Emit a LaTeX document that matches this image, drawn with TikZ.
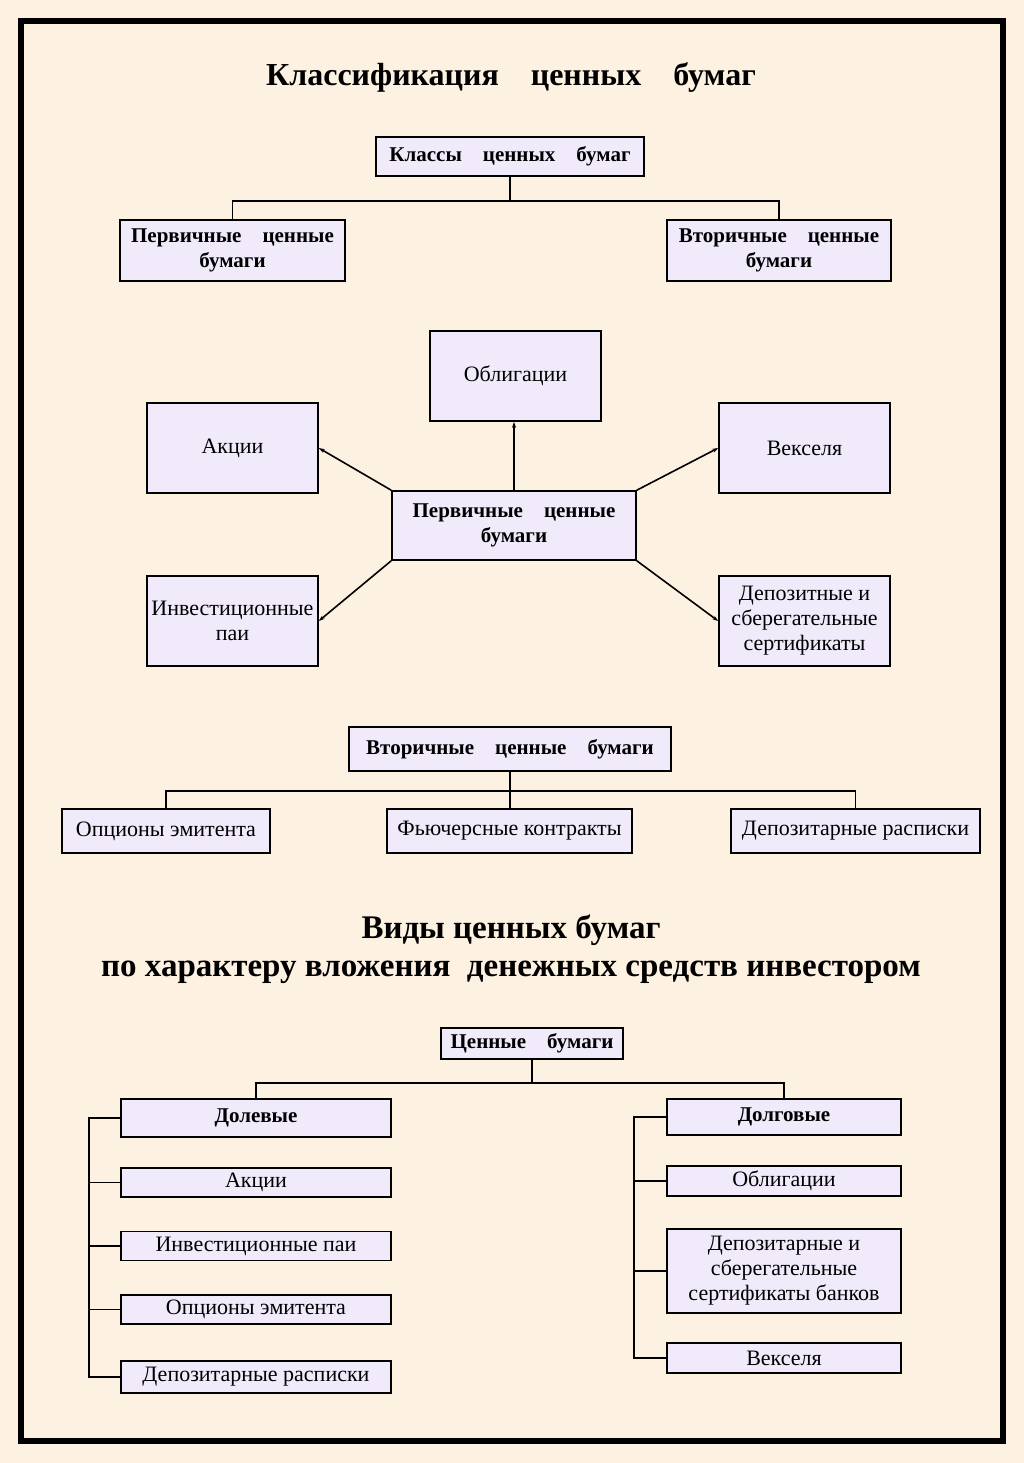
\documentclass[tikz,border=0pt]{standalone}
\usepackage{fontspec}
\setmainfont{Liberation Serif}
\usetikzlibrary{arrows.meta}
\definecolor{paper}{HTML}{FDF1E2}
\definecolor{lilac}{HTML}{F0EAFB}
\newcommand{\wgap}{\hspace{1em}}

\begin{document}
\begin{tikzpicture}[x=1pt, y=-1pt,
	box/.style = {draw = black, fill = lilac, line width = 1.6pt, inner sep = 0pt, align = center, font = \fontsize{22}{25}\selectfont},
	boldbox/.style = {box, font = \bfseries\fontsize{21}{25}\selectfont},
	link/.style = {line width = 1.6pt},
	arr/.style = {link, -{Stealth[length = 6pt, width = 4pt]}}]
				\fill[paper] (0,0) rectangle (1024,1463);
				\useasboundingbox (0,0) rectangle (1024,1463);
				\draw[line width = 6pt] (21,21) rectangle (1003,1441);

				\node[font = \bfseries\fontsize{32}{38}\selectfont] (title) at (511,78) {Классификация\wgap ценных\wgap бумаг};
				\node[boldbox, minimum width = 268pt, minimum height = 39pt] (klassy) at (510,156.5) {Классы\wgap ценных\wgap бумаг};
				\node[boldbox, minimum width = 225pt, minimum height = 61pt] (perv) at (232.5,250.5) {Первичные\wgap ценные\\бумаги};
				\node[boldbox, minimum width = 224pt, minimum height = 61pt] (vtor) at (779,250.5) {Вторичные\wgap ценные\\бумаги};
				\draw[link] (klassy.south) -- ++(0,24) coordinate (k1) -| (perv.north);
				\draw[link] (k1) -| (vtor.north);

				\node[box, minimum width = 171pt, minimum height = 90pt] (obl) at (515.5,376) {Облигации};
				\node[box, minimum width = 171pt, minimum height = 90pt] (akc) at (232.5,448) {Акции};
				\node[box, minimum width = 171pt, minimum height = 90pt] (veks) at (804.5,448) {Векселя};
				\node[box, minimum width = 171pt, minimum height = 90pt] (inv) at (232.5,621) {Инвестиционные\\паи};
				\node[box, minimum width = 171pt, minimum height = 90pt] (dep) at (804.5,621) {Депозитные и\\сберегательные\\сертификаты};
				\node[boldbox, minimum width = 244pt, minimum height = 69pt] (pcb) at (514,525.5) {Первичные\wgap ценные\\бумаги};
				\draw[arr] (pcb.north) -- (pcb.north |- obl.south);
				\draw[arr] (pcb.north west) -- (akc.east);
				\draw[arr] (pcb.north east) -- (veks.west);
				\draw[arr] (pcb.south west) -- (inv.east);
				\draw[arr] (pcb.south east) -- (dep.west);

				\node[boldbox, minimum width = 322pt, minimum height = 44pt] (vcb) at (510,749) {Вторичные\wgap ценные\wgap бумаги};
				\node[box, minimum width = 208pt, minimum height = 44pt] (opc) at (166,831) {Опционы эмитента};
				\node[box, minimum width = 245pt, minimum height = 44pt] (fut) at (509.5,831) {Фьючерсные контракты};
				\node[box, minimum width = 249pt, minimum height = 44pt] (dras) at (855.5,831) {Депозитарные расписки};
				\draw[link] (vcb.south) -- ++(0,19) coordinate (v1) -| (opc.north);
				\draw[link] (v1) -| (dras.north);
				\draw[link] (v1) -- (v1 |- fut.north);

				\node[font = \bfseries\fontsize{33}{38}\selectfont, align = center] (title2) at (511,949) {Виды ценных бумаг\\по характеру вложения\ \ денежных средств инвестором};

				\node[boldbox, minimum width = 182pt, minimum height = 31pt] (cb) at (532,1043.5) {Ценные\wgap бумаги};
				\node[boldbox, minimum width = 270pt, minimum height = 38pt] (dol) at (256,1118) {Долевые};
				\node[box, minimum width = 270pt, minimum height = 29pt] (akc2) at (256,1182.5) {Акции};
				\node[box, minimum width = 270pt, minimum height = 29pt] (inv2) at (256,1246) {Инвестиционные паи};
				\node[box, minimum width = 270pt, minimum height = 29pt] (opc2) at (256,1309.5) {Опционы эмитента};
				\node[box, minimum width = 270pt, minimum height = 32pt] (dras2) at (256,1377) {Депозитарные расписки};
				\node[boldbox, minimum width = 234pt, minimum height = 36pt] (dolg) at (784,1117) {Долговые};
				\node[box, minimum width = 234pt, minimum height = 30pt] (obl2) at (784,1181) {Облигации};
				\node[box, minimum width = 234pt, minimum height = 84pt] (dep2) at (784,1271) {Депозитарные и\\сберегательные\\сертификаты банков};
				\node[box, minimum width = 234pt, minimum height = 30pt] (veks2) at (784,1358) {Векселя};
				\draw[link] (cb.south) -- ++(0,23) coordinate (c1) -| (dol.north);
				\draw[link] (c1) -| (dolg.north);
				\foreach \n in {akc2, inv2, opc2, dras2}
					\draw[link] (dol.west) -- ++(-31,0) |- (\n.west);
				\foreach \n in {obl2, dep2, veks2}
					\draw[link] (dolg.west) -- ++(-32,0) |- (\n.west);
			\end{tikzpicture}
\end{document}
